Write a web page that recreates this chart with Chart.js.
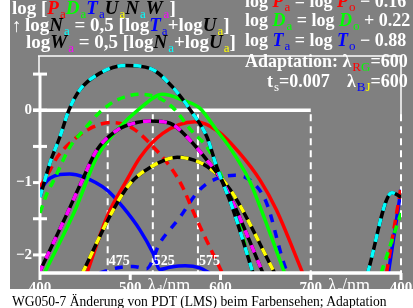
<!DOCTYPE html>
<html>
<head>
<meta charset="utf-8">
<script src="https://cdn.jsdelivr.net/npm/chart.js@4.4.1/dist/chart.umd.min.js"></script>
<style>
body { margin: 0; background: #fff; }
#wrap { position: relative; width: 413px; height: 308px; overflow: hidden; }
#bg { position: absolute; left: 10px; top: 0; width: 403px; height: 289px; background: #808080; }
canvas { position: absolute; left: 0; top: 0; }
.t { position: absolute; font: bold 18px "Liberation Serif", serif; color: #fff; line-height: 17px; white-space: nowrap; }
.t.l { font-size: 19px; }
.t i { font-style: italic; }
.t sub { font-size: 13px; font-weight: normal; vertical-align: -4px; line-height: 0; margin-left: 1px; }
.t sub + sub { margin-left: 0; }
#cap { position: absolute; left: 12px; top: 294px; font: 13.6px "Liberation Serif", serif; color: #000; white-space: nowrap; }
</style>
</head>
<body>
<div id="wrap">
  <div id="bg"></div>
  <canvas id="c" width="413" height="308"></canvas>
  <div class="t l" style="left:12px;top:-1px">log [<i style="color:#f00">P</i><sub style="color:#f00">a</sub><i style="color:#0f0">D</i><sub style="color:#0f0">a</sub><i style="color:#00f">T</i><sub style="color:#00f">a</sub><i style="color:#000">U</i><sub style="color:#ff0">a</sub><i style="color:#000">N</i><sub style="color:#0ff">a</sub><i style="color:#000">W</i><sub style="color:#f0f">a</sub>]</div>
  <div class="t l" style="left:12px;top:17px">&uarr;</div>
  <div class="t l" style="left:25px;top:16px">log<i style="color:#000">N</i><sub style="color:#0ff">a</sub> = 0,5 [log<i style="color:#00f">T</i><sub style="color:#00f">a</sub>+log<i style="color:#000">U</i><sub style="color:#ff0">a</sub>]</div>
  <div class="t l" style="left:26px;top:33px">log<i style="color:#000">W</i><sub style="color:#f0f">a</sub> = 0,5 [log<i style="color:#000">N</i><sub style="color:#0ff">a</sub>+log<i style="color:#000">U</i><sub style="color:#ff0">a</sub>]</div>
  <div class="t" style="left:245px;top:-7px">log<i style="color:#f00"> P</i><sub style="color:#f00">a</sub> = log <i style="color:#f00">P</i><sub style="color:#f00">o</sub> &minus; 0.16</div>
  <div class="t" style="left:245px;top:12px">log<i style="color:#0f0"> D</i><sub style="color:#0f0">a</sub> = log <i style="color:#0f0">D</i><sub style="color:#0f0">o</sub> + 0.22</div>
  <div class="t" style="left:245px;top:32px">log<i style="color:#00f"> T</i><sub style="color:#00f">a</sub> = log <i style="color:#00f">T</i><sub style="color:#00f">o</sub> &minus; 0.88</div>
  <div class="t" style="left:245px;top:53px">Adaptation: &lambda;<sub style="color:#f00">R</sub><sub style="color:#0f0">G</sub>=600</div>
  <div class="t" style="left:267px;top:73px">t<sub>s</sub>=0.007</div>
  <div class="t" style="left:347px;top:73px">&lambda;<sub style="color:#00f">B</sub><sub style="color:#ff0">J</sub>=600</div>
  <div id="cap">WG050-7  Änderung von PDT (LMS) beim Farbensehen; Adaptation</div>
</div>
<script>
// x: 400..700 = lambda_d, 700..800 = lambda_c (700 -> 400)
var xTicks = [400, 500, 600, 700, 800];
var xTickLabels = ['400', '500', '600', '700', '400'];
var yTicks = [0.5, 0, -0.5, -1, -1.5, -2];
var yTickLabels = ['', '0', '', '\u22121', '', '\u22122'];
var markLines = [475, 525, 575];

// black/cyan
var lamN = [400, 411, 422, 432, 444, 466, 494, 522, 547, 569, 585, 596, 613, 636];
var valN = [-1.2, -0.73, -0.37, 0, 0.28, 0.51, 0.62, 0.58, 0.32, -0.04, -0.37, -0.79, -1.34, -2.25];
var lamNc = [763, 790, 800];
var valNc = [-2.25, -1.14, -1.2];
// black/magenta
var lamW = [399, 430, 446, 463, 485, 507, 522, 544, 566, 585, 599, 614, 647];
var valW = [-2.25, -1.43, -0.99, -0.55, -0.28, -0.17, -0.15, -0.18, -0.41, -0.69, -0.92, -1.28, -2.25];
// black/yellow
var lamU = [447, 481, 500, 522, 552, 577, 596, 603, 618, 660];
var valU = [-2.25, -1.38, -1.01, -0.79, -0.65, -0.72, -0.88, -0.97, -1.24, -2.25];
// green solid
var lamDa = [405, 439, 463, 485, 511, 536, 558, 577, 596, 610, 632, 644, 671];
var valDa = [-2.25, -1.38, -0.65, -0.28, 0.03, 0.22, 0.14, 0.03, -0.28, -0.51, -0.97, -1.34, -2.25];
// green dashed
var lamDo = [400, 408, 414, 433, 448, 466, 485, 511, 530, 547, 569, 585, 600, 615, 636];
var valDo = [-1.42, -1.14, -1.0, -0.51, -0.28, -0.03, 0.14, 0.22, 0.18, 0.04, -0.3, -0.51, -0.88, -1.35, -2.25];
var lamDoc = [778, 800];
var valDoc = [-2.25, -1.42];
// red solid
var lamPa = [452, 475, 496, 511, 536, 572, 596, 621, 644, 662, 691];
var valPa = [-2.25, -1.45, -0.97, -0.65, -0.32, -0.16, -0.28, -0.59, -0.97, -1.38, -2.25];
// red dashed
var lamPo = [400, 411, 419, 437, 459, 478, 500, 522, 547, 558, 569, 577, 602];
var valPo = [-1.06, -0.83, -0.65, -0.41, -0.23, -0.17, -0.23, -0.46, -0.83, -1.06, -1.38, -1.6, -2.25];
var lamPoc = [784, 800];
var valPoc = [-2.25, -1.06];
// blue solid
var lamTa = [400, 411, 433, 448, 474, 492, 511, 525, 533, 544, 561, 577, 588];
var valTa = [-1.1, -0.94, -0.88, -0.92, -1.1, -1.34, -1.66, -1.97, -2.2, -2.17, -2.15, -2.18, -2.25];
var lamTac = [786, 800];
var valTac = [-2.25, -1.1];
// blue dashed
var lamTo = [466, 485, 503, 518, 533, 555, 574, 588, 616, 633, 651, 669, 674];
var valTo = [-2.25, -2.18, -2.16, -2.19, -1.83, -1.48, -1.14, -0.99, -0.9, -0.97, -1.28, -2.07, -2.25];

function pts(lam, val) {
    return lam.map(function (l, i) { return { x: l, y: val[i] }; });
}
function ds(lam, val, color, dash, order) {
    return {
        data: pts(lam, val), borderColor: color, borderWidth: 3.5, borderDash: dash || [],
        pointRadius: 0, cubicInterpolationMode: 'monotone', fill: false, order: order
    };
}

var datasets = [
    ds(lamN, valN, '#0ff', [8, 8], 1), ds(lamN, valN, '#000', null, 2),
    ds(lamNc, valNc, '#0ff', [8, 8], 1), ds(lamNc, valNc, '#000', null, 2),
    ds(lamW, valW, '#f0f', [8, 8], 3), ds(lamW, valW, '#000', null, 4),
    ds(lamU, valU, '#ff0', [8, 8], 5), ds(lamU, valU, '#000', null, 6),
    ds(lamDa, valDa, '#0f0', null, 7),
    ds(lamDo, valDo, '#0f0', [8, 6], 8), ds(lamDoc, valDoc, '#0f0', [8, 6], 8),
    ds(lamPa, valPa, '#f00', null, 9),
    ds(lamPo, valPo, '#f00', [9, 6], 10), ds(lamPoc, valPoc, '#f00', [9, 6], 10),
    ds(lamTa, valTa, '#00f', null, 11), ds(lamTac, valTac, '#00f', null, 11),
    ds(lamTo, valTo, '#00f', [8, 8], 12)
];

function seg(ctx, x1, y1, x2, y2) {
    ctx.beginPath();
    ctx.moveTo(x1, y1);
    ctx.lineTo(x2, y2);
    ctx.stroke();
}
function subText(ctx, main, sub, x, y, mainFont, subFont) {
    ctx.font = mainFont;
    ctx.fillText(main, x, y);
    var w = ctx.measureText(main).width;
    ctx.font = subFont;
    ctx.fillText(sub, x + w, y + 3);
    return x + w + ctx.measureText(sub).width;
}

var axesPlugin = {
    id: 'axes',
    beforeDatasetsDraw: function (chart) {
        var ctx = chart.ctx, xs = chart.scales.x, ys = chart.scales.y, a = chart.chartArea;
        var y0 = ys.getPixelForValue(0);
        ctx.save();
        ctx.strokeStyle = '#fff';
        ctx.lineWidth = 1.5;
        seg(ctx, 38, a.top, a.right + 1, a.top);
        seg(ctx, 39, a.top, 39, ys.getPixelForValue(0.5));
        seg(ctx, a.right, a.top, a.right, y0 + 6);
        ctx.lineWidth = 3;
        seg(ctx, a.left, ys.getPixelForValue(0.5), a.left, a.bottom);
        yTicks.forEach(function (v) {
            var py = ys.getPixelForValue(v);
            seg(ctx, a.left - 7, py, a.left + 7, py);
        });
        ctx.lineWidth = 3.5;
        seg(ctx, a.left - 7, y0, xs.getPixelForValue(700), y0);
        ctx.lineWidth = 2;
        ctx.setLineDash([7, 5]);
        markLines.concat([700, 800]).forEach(function (v) {
            var px = xs.getPixelForValue(v);
            seg(ctx, px, y0 + 4, px, a.bottom);
        });
        ctx.restore();
    },
    afterDatasetsDraw: function (chart) {
        var ctx = chart.ctx, xs = chart.scales.x, ys = chart.scales.y, a = chart.chartArea;
        ctx.save();
        ctx.strokeStyle = '#fff';
        ctx.fillStyle = '#fff';
        ctx.lineWidth = 3.5;
        seg(ctx, a.left, a.bottom, a.right + 1, a.bottom);
        ctx.lineWidth = 3;
        xTicks.forEach(function (v) {
            var px = xs.getPixelForValue(v);
            seg(ctx, px, a.bottom, px, a.bottom + 7);
        });
        ctx.font = 'bold 15px "Liberation Serif", serif';
        ctx.textAlign = 'center';
        ctx.textBaseline = 'alphabetic';
        xTicks.forEach(function (v, i) {
            ctx.fillText(xTickLabels[i], xs.getPixelForValue(v), a.bottom + 19);
        });
        ctx.textAlign = 'right';
        ctx.textBaseline = 'middle';
        yTicks.forEach(function (v, i) {
            if (yTickLabels[i]) ctx.fillText(yTickLabels[i], a.left - 8, ys.getPixelForValue(v));
        });
        ctx.textAlign = 'left';
        ctx.textBaseline = 'alphabetic';
        ctx.font = 'bold 14px "Liberation Serif", serif';
        markLines.forEach(function (v) {
            ctx.fillText(String(v), xs.getPixelForValue(v) + 1, a.bottom - 8);
        });
        var nf = '18px "Liberation Serif", serif', sf = '12px "Liberation Serif", serif';
        var e = subText(ctx, '\u03bb', 'd', xs.getPixelForValue(519), a.bottom + 18, nf, sf);
        ctx.font = nf;
        ctx.fillText('/nm', e, a.bottom + 18);
        e = subText(ctx, '\u03bb', 'c', xs.getPixelForValue(719), a.bottom + 18, nf, sf);
        ctx.font = nf;
        ctx.fillText('/nm', e, a.bottom + 18);
        ctx.restore();
    }
};

new Chart(document.getElementById('c'), {
    type: 'line',
    data: { datasets: datasets },
    options: {
        responsive: false,
        animation: false,
        devicePixelRatio: 1,
        layout: { padding: { left: 40, right: 12, top: 56, bottom: 35 } },
        plugins: { legend: { display: false }, tooltip: { enabled: false } },
        scales: {
            x: { type: 'linear', min: 400, max: 800, display: false },
            y: { type: 'linear', min: -2.25, max: 0.75, display: false }
        }
    },
    plugins: [axesPlugin]
});
</script>
</body>
</html>
